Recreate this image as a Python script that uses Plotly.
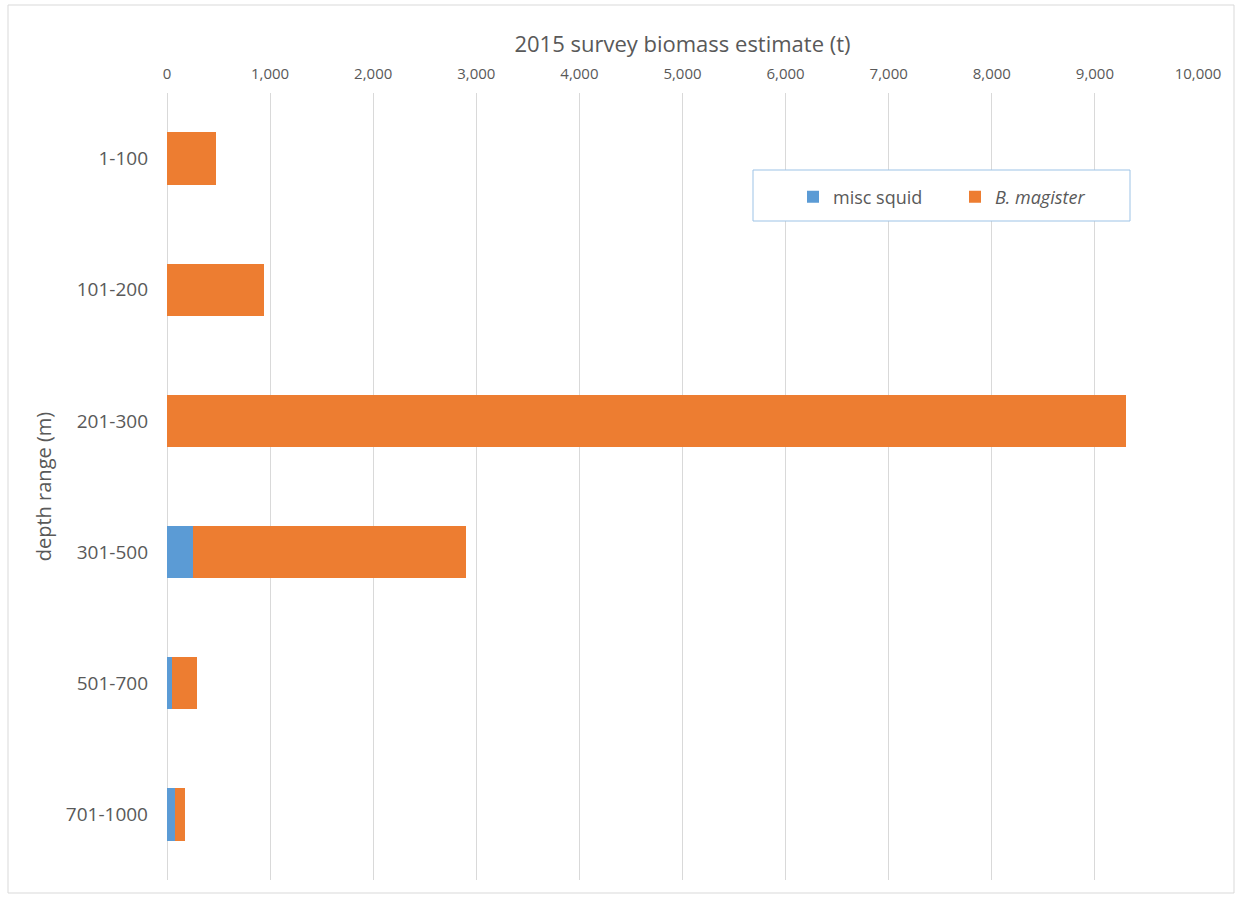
import plotly.graph_objects as go

# Depth strata (top to bottom) and biomass estimates in tonnes
depth_ranges = ["1-100", "101-200", "201-300", "301-500", "501-700", "701-1000"]
misc_squid = [0, 0, 0, 255, 45, 80]
b_magister = [480, 940, 9300, 2645, 250, 95]
x_ticks = list(range(0, 10001, 1000))
x_tick_labels = [f"{v:,}" for v in x_ticks]

BLUE = "#5B9BD5"
ORANGE = "#ED7D31"
TEXT = "#595959"
GRID = "#D9D9D9"
FONT = "Open Sans"

fig = go.Figure()
fig.add_trace(go.Bar(
    y=depth_ranges, x=misc_squid, orientation="h", name="misc squid",
    marker=dict(color=BLUE, line=dict(width=0)),
))
fig.add_trace(go.Bar(
    y=depth_ranges, x=b_magister, orientation="h", name="<i>B. magister</i>",
    marker=dict(color=ORANGE, line=dict(width=0)),
))

L, R, T, B = 167, 40, 93, 17
W, H = 1238, 897
pw, ph = W - L - R, H - T - B


def px_x(p):
    return (p - L) / pw


def px_y(p):
    return 1 - (p - T) / ph


fig.update_layout(
    width=W, height=H, autosize=False,
    margin=dict(l=L, r=R, t=T, b=B),
    barmode="stack", bargap=0.6,
    plot_bgcolor="white", paper_bgcolor="white",
    font=dict(family=FONT, color=TEXT),
    showlegend=True,
    legend=dict(
        orientation="h", x=px_x(793), y=px_y(197), xanchor="left", yanchor="middle",
        bgcolor="rgba(0,0,0,0)", borderwidth=0, entrywidth=117,
        font=dict(size=18, color=TEXT, family=FONT), traceorder="normal",
    ),
    xaxis=dict(
        side="top", range=[0, 10000], tickvals=x_ticks, ticktext=x_tick_labels,
        showgrid=True, gridcolor=GRID, gridwidth=1,
        zeroline=True, zerolinecolor=GRID, zerolinewidth=1,
        showline=False, ticks="", ticklabelstandoff=10, tickfont=dict(size=15, color=TEXT),
        title=dict(text="2015 survey biomass estimate (t)", font=dict(size=22, color=TEXT),
                   standoff=4),
    ),
    yaxis=dict(
        autorange="reversed", showgrid=False, zeroline=False, showline=False,
        ticks="", ticklabelstandoff=18, tickfont=dict(size=19, color=TEXT),
        title=dict(text="depth range (m)", font=dict(size=20, color=TEXT), standoff=8),
    ),
    shapes=[
        # outer chart border
        dict(type="rect", xref="paper", yref="paper",
             x0=px_x(8), x1=px_x(1234), y0=px_y(5), y1=px_y(893),
             line=dict(color=GRID, width=1), fillcolor="rgba(0,0,0,0)", layer="below"),
        # legend frame
        dict(type="rect", xref="paper", yref="paper",
             x0=px_x(753), x1=px_x(1130), y0=px_y(170), y1=px_y(221),
             line=dict(color="#9DC3E6", width=1), fillcolor="white", layer="above"),
    ],
)

fig.write_html(
    "out.html",
    config={"responsive": False},
    post_script=(
        "document.documentElement.style.overflow='hidden';"
        "document.body.style.margin='0';"
        "document.body.style.overflow='hidden';"
    ),
)
